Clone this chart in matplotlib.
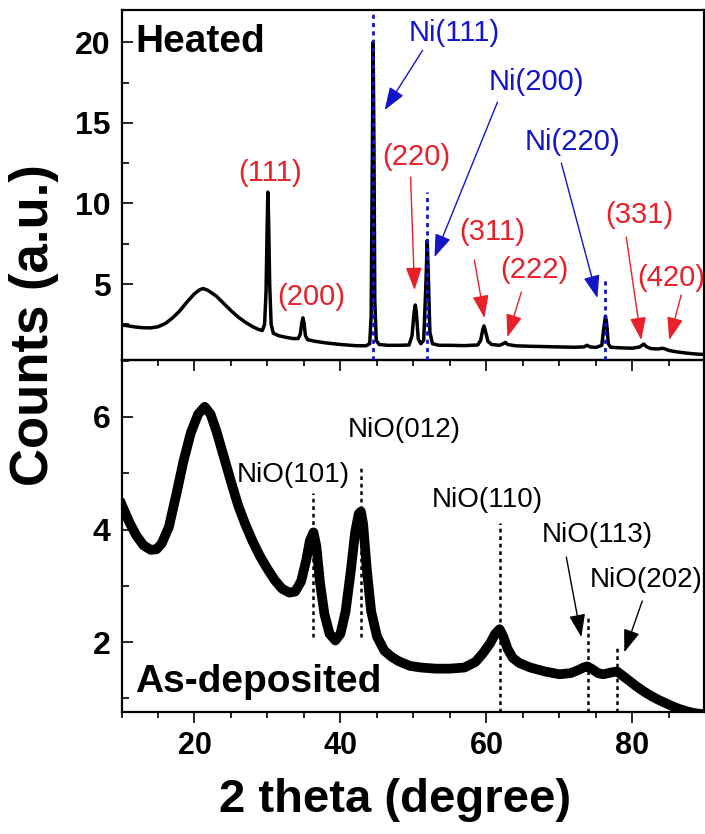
import matplotlib
matplotlib.use("Agg")
import matplotlib.pyplot as plt
from matplotlib.ticker import MultipleLocator

plt.rcParams['font.family'] = ['Liberation Sans', 'DejaVu Sans']

# ---------------- data ----------------
heated_2theta = [10.0, 11.0, 12.0, 13.0, 14.0, 15.0, 16.0, 17.0, 18.0, 19.0, 20.0, 20.7, 21.2, 21.8,
                 23.0, 24.0, 25.0, 26.0, 27.0, 28.0, 28.8, 29.3, 29.6, 29.8, 29.95, 30.05, 30.15, 30.3,
                 30.5, 30.8, 31.5, 32.5, 33.5, 34.2, 34.5, 34.7, 34.85, 35.0, 35.2, 35.5, 36.5, 38.0,
                 40.0, 42.0, 43.5, 44.0, 44.2, 44.35, 44.47, 44.58, 44.7, 44.9, 45.3, 46.5, 48.0, 49.4,
                 49.8, 50.1, 50.25, 50.4, 50.65, 51.0, 51.4, 51.7, 51.89, 52.0, 52.25, 52.6, 53.5, 55.0,
                 57.0, 58.8, 59.2, 59.5, 59.65, 59.85, 60.2, 60.7, 61.8, 62.3, 62.6, 62.9, 64.0, 66.0,
                 68.0, 70.0, 72.0, 73.3, 73.8, 74.2, 75.0, 75.8, 76.05, 76.3, 76.45, 76.7, 77.0, 78.5,
                 80.0, 81.0, 81.55, 81.9, 82.5, 83.5, 84.1, 84.5, 85.0, 86.0, 87.0, 88.0, 89.0, 89.8]
heated_counts = [2.47, 2.40, 2.33, 2.29, 2.28, 2.35, 2.55, 2.90, 3.35, 3.90, 4.40, 4.65, 4.72, 4.62,
                 4.25, 3.80, 3.35, 2.95, 2.62, 2.35, 2.18, 2.12, 2.5, 4.5, 8.5, 10.7, 9.0, 5.0,
                 2.5, 1.95, 1.80, 1.70, 1.62, 1.62, 1.9, 2.6, 2.9, 2.6, 1.8, 1.55, 1.45, 1.35,
                 1.25, 1.18, 1.17, 1.3, 3.0, 12.0, 20.0, 14.0, 4.0, 1.5, 1.25, 1.2, 1.2, 1.22,
                 1.8, 3.3, 3.7, 3.2, 1.6, 1.3, 1.5, 5.0, 7.7, 6.0, 2.0, 1.3, 1.2, 1.2,
                 1.18, 1.22, 1.5, 2.2, 2.4, 2.1, 1.45, 1.25, 1.2, 1.3, 1.38, 1.25, 1.17, 1.14,
                 1.12, 1.10, 1.08, 1.10, 1.2, 1.1, 1.07, 1.2, 2.2, 3.0, 2.6, 1.3, 1.08, 1.04,
                 1.02, 1.1, 1.28, 1.12, 1.0, 0.97, 1.02, 0.97, 0.88, 0.80, 0.74, 0.69, 0.65, 0.63]

asdep_2theta = [10.0, 11.0, 12.0, 13.0, 14.0, 14.8, 15.5, 16.5, 17.5, 18.5, 19.5, 20.5, 21.4, 22.2,
                23.0, 24.0, 25.0, 26.0, 27.0, 28.0, 29.0, 30.0, 31.0, 32.0, 33.0, 33.8, 34.6, 35.3,
                35.8, 36.3, 36.7, 37.2, 37.8, 38.5, 39.3, 40.0, 40.7, 41.4, 42.0, 42.5, 42.8, 43.1,
                43.6, 44.2, 45.0, 46.0, 47.0, 48.0, 49.5, 51.0, 53.0, 55.0, 57.0, 58.5, 59.5, 60.5,
                61.2, 61.8, 62.3, 62.9, 63.6, 64.5, 66.0, 68.0, 70.0, 71.5, 72.5, 73.3, 73.8, 74.5,
                75.3, 76.0, 77.0, 77.9, 78.5, 79.5, 80.5, 81.5, 82.5, 83.5, 84.5, 85.5, 86.5, 87.5,
                88.5, 89.8]
asdep_counts = [4.45, 4.15, 3.90, 3.72, 3.64, 3.65, 3.75, 4.05, 4.62, 5.22, 5.72, 6.05, 6.18, 6.05,
                5.75, 5.30, 4.85, 4.42, 4.08, 3.78, 3.52, 3.30, 3.10, 2.95, 2.88, 2.90, 3.08, 3.45,
                3.80, 3.95, 3.70, 3.05, 2.50, 2.15, 2.03, 2.15, 2.55, 3.25, 3.95, 4.28, 4.32, 4.10,
                3.30, 2.55, 2.10, 1.85, 1.74, 1.66, 1.58, 1.55, 1.53, 1.53, 1.55, 1.65, 1.80, 1.98,
                2.15, 2.23, 2.10, 1.88, 1.72, 1.63, 1.55, 1.48, 1.43, 1.45, 1.50, 1.55, 1.57, 1.52,
                1.45, 1.43, 1.46, 1.48, 1.42, 1.32, 1.22, 1.13, 1.05, 0.98, 0.92, 0.86, 0.81, 0.77,
                0.74, 0.72]

# reference lines (peak positions)
ni_ref_2theta = [44.5, 51.9, 76.25]
ni_ref_top = [22.0, 10.7, 5.4]
nio_ref_2theta = [36.3, 42.8, 61.8, 73.9, 77.9]
nio_ref_top = [4.65, 5.15, 4.12, 2.43, 1.91]
nio_ref_bottom = [2.09, 2.09, 0.76, 0.76, 0.76]

# upper-panel annotations: label, text (x, y), arrow tail, arrow head (None = no arrow), colour key
heated_labels = ["(111)", "(200)", "Ni(111)", "Ni(200)", "Ni(220)", "(220)", "(311)", "(222)", "(331)", "(420)"]
heated_label_xy = [(30.3, 11.88), (36.06, 4.19), (55.6, 20.56), (66.8, 17.52), (71.76, 13.8),
                   (50.4, 12.87), (60.8, 8.22), (66.5, 5.87), (80.9, 9.28), (85.3, 5.37)]
heated_arrow_tail = [None, None, (51.25, 19.5), (61.5, 16.28), (70.26, 12.5),
                     (49.6, 11.63), (58.35, 6.49), (64.78, 4.5), (79.15, 7.91), (86.68, 4.32)]
heated_arrow_head = [None, None, (46.05, 15.79), (52.88, 6.67), (75.19, 4.13),
                     (50.15, 4.63), (59.72, 2.89), (62.87, 1.71), (81.2, 1.53), (85.04, 1.53)]
heated_label_kind = ["fcc", "fcc", "ni", "ni", "ni", "fcc", "fcc", "fcc", "fcc", "fcc"]

asdep_labels = ["NiO(101)", "NiO(012)", "NiO(110)", "NiO(113)", "NiO(202)"]
asdep_label_xy = [(33.5, 4.97), (48.78, 5.77), (60.14, 4.53), (75.19, 3.91), (81.9, 3.11)]
asdep_arrow_tail = [None, None, None, (70.94, 3.51), (81.34, 2.73)]
asdep_arrow_head = [None, None, None, (72.99, 2.09), (78.88, 1.82)]

# ---------------- figure ----------------
RED = '#e8202a'
BLUE = '#1414c8'
colors = {"fcc": RED, "ni": BLUE}

fig = plt.figure(figsize=(7.05, 8.34), dpi=100)
left, right = 121.5 / 705, 704 / 705
ax1 = fig.add_axes([left, 1 - 359.5 / 834, right - left, (359.5 - 10) / 834])
ax2 = fig.add_axes([left, 1 - 712 / 834, right - left, (712 - 359.5) / 834])

ax1.plot(heated_2theta, heated_counts, color='black', lw=2.5, zorder=3)
ax2.plot(asdep_2theta, asdep_counts, color='black', lw=7.0, zorder=3, solid_joinstyle='round')

for x, top in zip(ni_ref_2theta, ni_ref_top):
    ax1.plot([x, x], [0.3, top], color=BLUE, lw=2.0, ls=(0, (1.5, 1.5)), zorder=4)
for x, top, bot in zip(nio_ref_2theta, nio_ref_top, nio_ref_bottom):
    ax2.plot([x, x], [bot, top], color='black', lw=1.8, ls=(0, (1.5, 1.5)), zorder=4)

arrow_style = '-|>,head_length=0.7,head_width=0.25'
for lab, xy, tail, head, kind in zip(heated_labels, heated_label_xy, heated_arrow_tail,
                                     heated_arrow_head, heated_label_kind):
    c = colors[kind]
    ax1.text(xy[0], xy[1], lab, color=c, fontsize=21, ha='center', va='center', zorder=5)
    if tail is not None:
        ax1.annotate('', xy=head, xytext=tail,
                     arrowprops=dict(arrowstyle=arrow_style, color=c,
                                     lw=1.0, shrinkA=0, shrinkB=0, mutation_scale=20), zorder=5)

for lab, xy, tail, head in zip(asdep_labels, asdep_label_xy, asdep_arrow_tail, asdep_arrow_head):
    ax2.text(xy[0], xy[1], lab, color='black', fontsize=20, ha='center', va='center', zorder=5)
    if tail is not None:
        ax2.annotate('', xy=head, xytext=tail,
                     arrowprops=dict(arrowstyle=arrow_style, color='black',
                                     lw=1.0, shrinkA=0, shrinkB=0, mutation_scale=20), zorder=5)

ax1.text(11.85, 20.0, "Heated", fontsize=28, fontweight='bold', ha='left', va='center')
ax2.text(11.85, 1.29, "As-deposited", fontsize=28, fontweight='bold', ha='left', va='center')

ax1.set_xlim(10, 89.8)
ax2.set_xlim(10, 89.8)
ax1.set_ylim(0.32, 22.0)
ax2.set_ylim(0.76, 7.02)

ax1.yaxis.set_major_locator(MultipleLocator(5))
ax1.yaxis.set_minor_locator(MultipleLocator(2.5))
ax2.yaxis.set_major_locator(MultipleLocator(2))
ax2.yaxis.set_minor_locator(MultipleLocator(1))
for ax in (ax1, ax2):
    ax.xaxis.set_major_locator(MultipleLocator(20))
    ax.xaxis.set_minor_locator(MultipleLocator(5))
    ax.tick_params(axis='y', which='major', direction='in', length=8, width=1.2, labelsize=23, pad=8)
    ax.tick_params(axis='y', which='minor', direction='in', length=5, width=1.2)
    ax.tick_params(axis='x', which='major', direction='out', length=8, width=1.2, labelsize=22, pad=6)
    ax.tick_params(axis='x', which='minor', direction='out', length=4.5, width=1.2)
    for lbl in ax.get_xticklabels() + ax.get_yticklabels():
        lbl.set_fontweight('bold')
    for s in ax.spines.values():
        s.set_linewidth(1.6)
ax1.tick_params(axis='x', labelbottom=False)
ax1.set_zorder(2)
ax1.patch.set_alpha(0)

fig.text(34 / 705, 1 - 325 / 834, "Counts (a.u.)", rotation=90, fontsize=38, fontweight='bold',
         ha='center', va='center')
fig.text(395 / 705, 1 - 800 / 834, "2 theta (degree)", fontsize=34, fontweight='bold',
         ha='center', va='center')

fig.savefig("out.png", dpi=100)
